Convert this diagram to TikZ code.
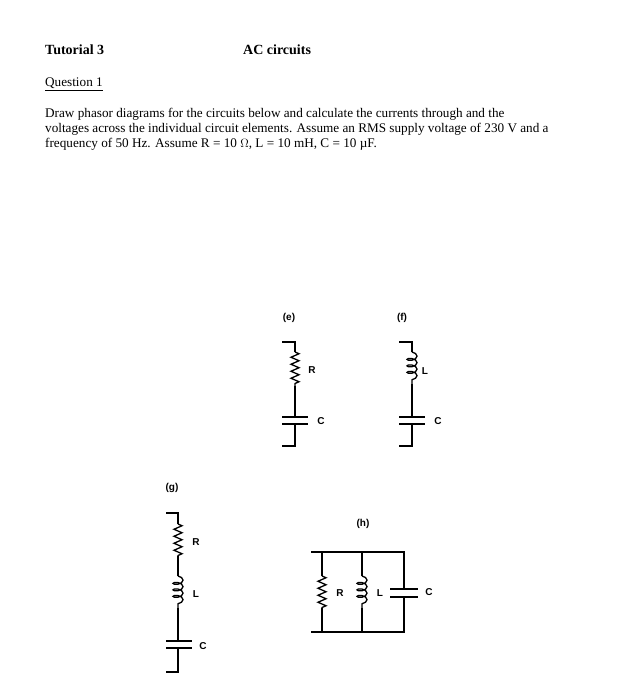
\documentclass[tikz,border=0pt]{standalone}
\usepackage{fontspec}
\setmainfont{Liberation Serif}
\setsansfont{Liberation Sans}
\usetikzlibrary{decorations.pathmorphing}
\begin{document}
\begin{tikzpicture}[x=1pt,y=-1pt,
  wire/.style={line width=1.3pt},
  res/.style={wire,decorate,decoration={zigzag,amplitude=4pt,segment length=7pt}},
  ind/.style={wire,decorate,decoration={coil,amplitude=5pt,segment length=6.5pt,aspect=0.5}},
  lbl/.style={font=\sffamily\bfseries\fontsize{10}{11}\selectfont},
  txt/.style={anchor=base west,inner sep=0pt,font=\fontsize{13.2}{15}\selectfont}]
\useasboundingbox (0,0) rectangle (635,700);
\node[txt,font=\fontsize{14}{16}\selectfont\bfseries] (t1) at (45,55) {Tutorial 3};
\node[txt,font=\fontsize{14}{16}\selectfont\bfseries] (t2) at (243,55) {AC circuits};
\node[txt] (q) at (45,87) {\underline{Question 1}};
\node[txt] (p1) at (45,118) {Draw phasor diagrams for the circuits below and calculate the currents through and the};
\node[txt] (p2) at (45,133) {voltages across the individual circuit elements. Assume an RMS supply voltage of 230 V and a};
\node[txt] (p3) at (45,148) {frequency of 50 Hz. Assume R = 10 $\Omega$, L = 10 mH, C = 10 \textmu F.};
% (e)
\node[lbl] (le) at (289,318) {(e)};
\draw[wire] (282,342) -- (295,342) -- (295,352);
\draw[res] (295,352) -- (295,386);
\draw[wire] (295,386) -- (295,417);
\draw[wire] (282,417) -- (308,417) (282,424) -- (308,424);
\draw[wire] (295,424) -- (295,446) -- (282,446);
\node[lbl] (re) at (312,370) {R};
\node[lbl] (ce) at (321,421) {C};
% (f)
\node[lbl] (lf) at (402,318) {(f)};
\draw[wire] (399,342) -- (412,342) -- (412,352);
\draw[ind] (412,352) -- (412,384);
\draw[wire] (412,384) -- (412,417);
\draw[wire] (399,417) -- (425,417) (399,424) -- (425,424);
\draw[wire] (412,424) -- (412,446) -- (399,446);
\node[lbl] (xf) at (425,371) {L};
\node[lbl] (cf) at (438,421) {C};
% (g)
\node[lbl] (lg) at (172,488) {(g)};
\draw[wire] (166,513) -- (178,513) -- (178,524);
\draw[res] (178,524) -- (178,556);
\draw[wire] (178,556) -- (178,576);
\draw[ind] (178,576) -- (178,608);
\draw[wire] (178,608) -- (178,641);
\draw[wire] (166,641) -- (192,641) (166,648) -- (192,648);
\draw[wire] (178,648) -- (178,672) -- (166,672);
\node[lbl] (rg) at (196,542) {R};
\node[lbl] (xg) at (196,594) {L};
\node[lbl] (cg) at (203,646) {C};
% (h)
\node[lbl] (lh) at (363,524) {(h)};
\draw[wire] (311,552) -- (404,552) -- (404,589);
\draw[wire] (311,632) -- (404,632) -- (404,597);
\draw[wire] (390,589) -- (418,589) (390,597) -- (418,597);
\draw[wire] (322,552) -- (322,576) (322,608) -- (322,632);
\draw[res] (322,576) -- (322,608);
\draw[wire] (362,552) -- (362,576) (362,608) -- (362,632);
\draw[ind] (362,576) -- (362,608);
\node[lbl] (rh) at (340,593) {R};
\node[lbl] (xh) at (380,593) {L};
\node[lbl] (ch) at (429,592) {C};
\end{tikzpicture}
\end{document}
